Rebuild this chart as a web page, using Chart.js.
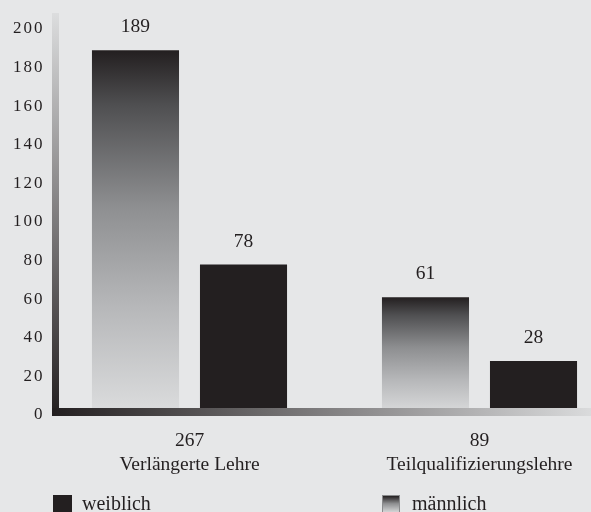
<!DOCTYPE html>
<html lang="de">
<head>
<meta charset="utf-8">
<title>Verlängerte Lehre / Teilqualifizierungslehre</title>
<script src="https://cdn.jsdelivr.net/npm/chart.js@4.4.1/dist/chart.umd.min.js"></script>
<style>
  html, body { margin: 0; padding: 0; background: #e6e7e8; overflow: hidden; }
  #wrap { position: relative; width: 630px; height: 512px; }
  .legend-text {
    position: absolute; top: 492px; line-height: 20px; white-space: nowrap;
    font: 20px "Liberation Serif", "Times New Roman", serif; color: #231f20;
  }
  .legend-box { position: absolute; top: 495px; width: 19px; height: 19px; box-sizing: border-box; }
  #boxW { left: 53px; background: #231f20; }
  #boxM { left: 382px; width: 18px; background: linear-gradient(#231f20, #8e8f91 45%, #dcddde); border: 1px solid #8a8b8d; }
</style>
</head>
<body>
<div id="wrap">
  <canvas id="chart"></canvas>
  <div class="legend-box" id="boxW"></div>
  <div class="legend-text" style="left:82px">weiblich</div>
  <div class="legend-box" id="boxM"></div>
  <div class="legend-text" style="left:412px">männlich</div>
</div>

<script>
// --- Data ---
const categories = ["Verlängerte Lehre", "Teilqualifizierungslehre"];
const totals = [267, 89];
const maennlich = [189, 61];
const weiblich = [78, 28];
const yMin = 0;
const yMax = 200;
const yStep = 20;

const DARK = "#231f20";

Chart.defaults.font.family = "'Liberation Serif', 'Times New Roman', serif";
Chart.defaults.color = DARK;

// gradient dark at bar top -> light at base, one per bar
function barGradient(c) {
  const chart = c.chart;
  if (!chart.chartArea) return DARK;
  const y = chart.scales.y;
  const top = y.getPixelForValue(c.raw);
  const base = y.getPixelForValue(0);
  const g = chart.ctx.createLinearGradient(0, top, 0, base);
  g.addColorStop(0, DARK);
  g.addColorStop(0.15, "#4f4f51");
  g.addColorStop(0.43, "#8e8f91");
  g.addColorStop(0.7, "#b6b7b9");
  g.addColorStop(1, "#dcddde");
  return g;
}

// y ticks are tracked wider than the other text
const spacing = {
  id: "spacing",
  beforeDraw(chart) { chart.ctx.letterSpacing = "2px"; },
  beforeDatasetsDraw(chart) { chart.ctx.letterSpacing = "0px"; }
};

// gradient axis lines
const axisLines = {
  id: "axisLines",
  afterDatasetsDraw(chart) {
    const { ctx, chartArea: a, width } = chart;
    ctx.save();
    const yl = a.left + 7.5;
    const gy = ctx.createLinearGradient(0, a.top - 16, 0, a.bottom + 1);
    gy.addColorStop(0, "#dcddde");
    gy.addColorStop(1, DARK);
    ctx.fillStyle = gy;
    ctx.fillRect(yl, a.top - 16, 7, a.bottom + 1 - (a.top - 16));

    const gx = ctx.createLinearGradient(yl, 0, 591, 0);
    gx.addColorStop(0, DARK);
    gx.addColorStop(1, "#dadbdc");
    ctx.fillStyle = gx;
    ctx.fillRect(yl, a.bottom - 7, width - yl, 8);
    ctx.restore();
  }
};

// values above the bars
const valueLabels = {
  id: "valueLabels",
  afterDatasetsDraw(chart) {
    const { ctx } = chart;
    ctx.save();
    ctx.font = "19.5px 'Liberation Serif', 'Times New Roman', serif";
    ctx.fillStyle = DARK;
    ctx.textAlign = "center";
    ctx.textBaseline = "middle";
    chart.data.datasets.forEach((ds, i) => {
      chart.getDatasetMeta(i).data.forEach((bar, j) => {
        ctx.fillText(String(ds.data[j]), bar.x, bar.y - 23);
      });
    });
    ctx.restore();
  }
};

new Chart(document.getElementById("chart"), {
  type: "bar",
  data: {
    labels: categories.map((c, i) => [String(totals[i]), c]),
    datasets: [
      { label: "männlich", data: maennlich, backgroundColor: barGradient },
      { label: "weiblich", data: weiblich, backgroundColor: DARK }
    ]
  },
  options: {
    responsive: true,
    maintainAspectRatio: false,
    animation: false,
    events: [],
    categoryPercentage: 0.745,
    barPercentage: 0.806,
    layout: { padding: { top: 29, right: 5.5, left: 0, bottom: 0 } },
    plugins: { legend: { display: false }, tooltip: { enabled: false } },
    scales: {
      x: {
        grid: { display: false, drawTicks: false },
        border: { display: false },
        ticks: { z: 1, padding: 14, font: { size: 19.5, lineHeight: "24px" }, maxRotation: 0, autoSkip: false },
        afterFit: s => { s.height = 97; }
      },
      y: {
        min: yMin,
        max: yMax,
        grid: { display: false, drawTicks: false },
        border: { display: false },
        ticks: { stepSize: yStep, padding: 0, font: { size: 17 } },
        afterFit: s => { s.width = 44.5; }
      }
    }
  },
  plugins: [spacing, axisLines, valueLabels]
});
</script>
</body>
</html>
